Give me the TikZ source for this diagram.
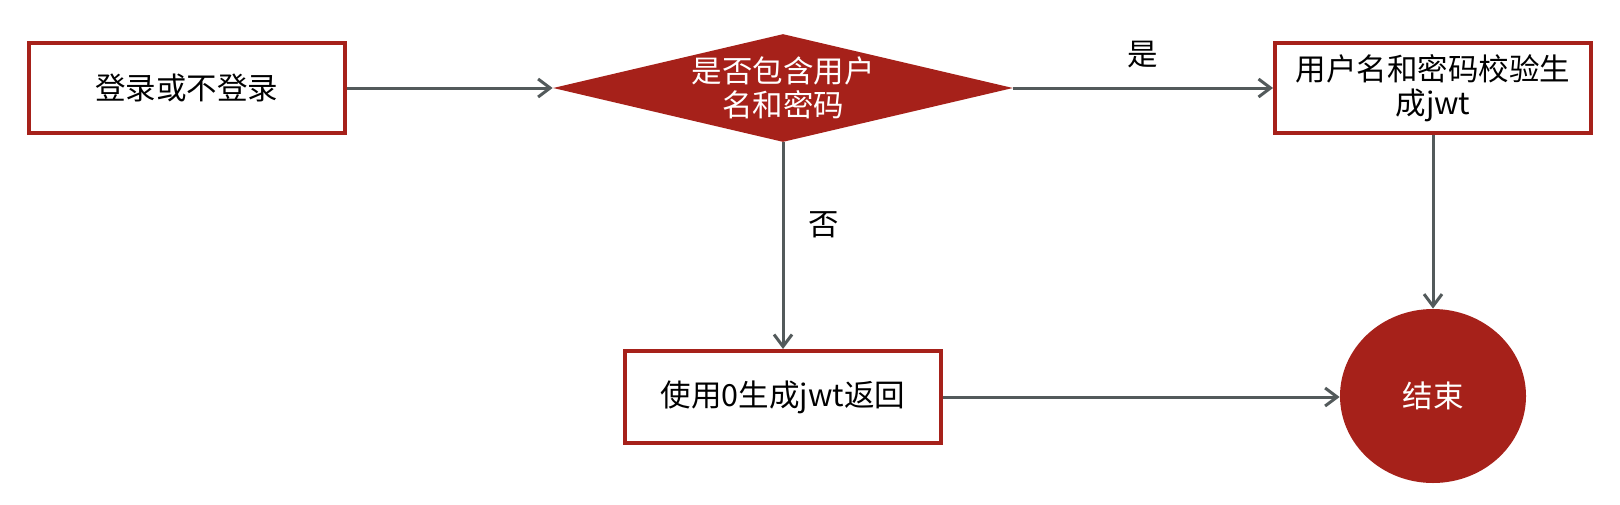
\documentclass[tikz,border=0pt]{standalone}
\usepackage{fontspec}
\setmainfont{Noto Sans CJK SC}
\usepackage{tikz}
\usetikzlibrary{shapes.geometric, arrows.meta, positioning}
\definecolor{flowred}{HTML}{A6211A}
\definecolor{linegray}{HTML}{535A5B}
\tikzstyle{stepbox} = [rectangle, minimum width=158pt, minimum height=45pt, inner sep=0pt, align=center, draw=flowred, line width=2pt, fill=white, font=\fontsize{15.25pt}{17pt}\selectfont]
\tikzstyle{decision} = [diamond, aspect=4.3, minimum width=230pt, minimum height=54pt, inner sep=0pt, align=center, fill=flowred, text=white, font=\fontsize{15.25pt}{17pt}\selectfont]
\tikzstyle{terminal} = [ellipse, minimum width=93pt, minimum height=87pt, inner sep=0pt, align=center, fill=flowred, text=white, font=\fontsize{15.25pt}{17pt}\selectfont]
\tikzstyle{flowarrow} = [line width=1.5pt, draw=linegray, -{Straight Barb[length=6pt,width=9pt,line width=1.5pt]}]
\tikzstyle{branch} = [font=\fontsize{15.25pt}{17pt}\selectfont, text=black]

\begin{document}
\begin{tikzpicture}

            \useasboundingbox (0,0) rectangle (810pt,-252pt);

            % Place nodes
            \node (login) [stepbox] at (93.25pt,-44pt) {登录或不登录};
            \node (check) [decision, right of=login, node distance=298.25pt] {是否包含用户\\名和密码};
            \node (verify) [stepbox, right of=check, node distance=325pt] {用户名和密码校验生\\成jwt};
            \node (zerojwt) [stepbox, minimum height=46pt, below of=check, node distance=154.5pt] {使用0生成jwt返回};
            \node (finish) [terminal, below of=verify, node distance=154pt] {结束};

            % Draw edges
            \draw [flowarrow] (login) -- (check);
            \draw [flowarrow] (check) -- node[branch, above=6pt] {是} (verify);
            \draw [flowarrow] (check) -- node[branch, right=8.5pt, pos=0.40] {否} (zerojwt);
            \draw [flowarrow] (verify) -- (finish);
            \draw [flowarrow] (zerojwt) -- (zerojwt.east -| finish.west);

        \end{tikzpicture}
\end{document}
